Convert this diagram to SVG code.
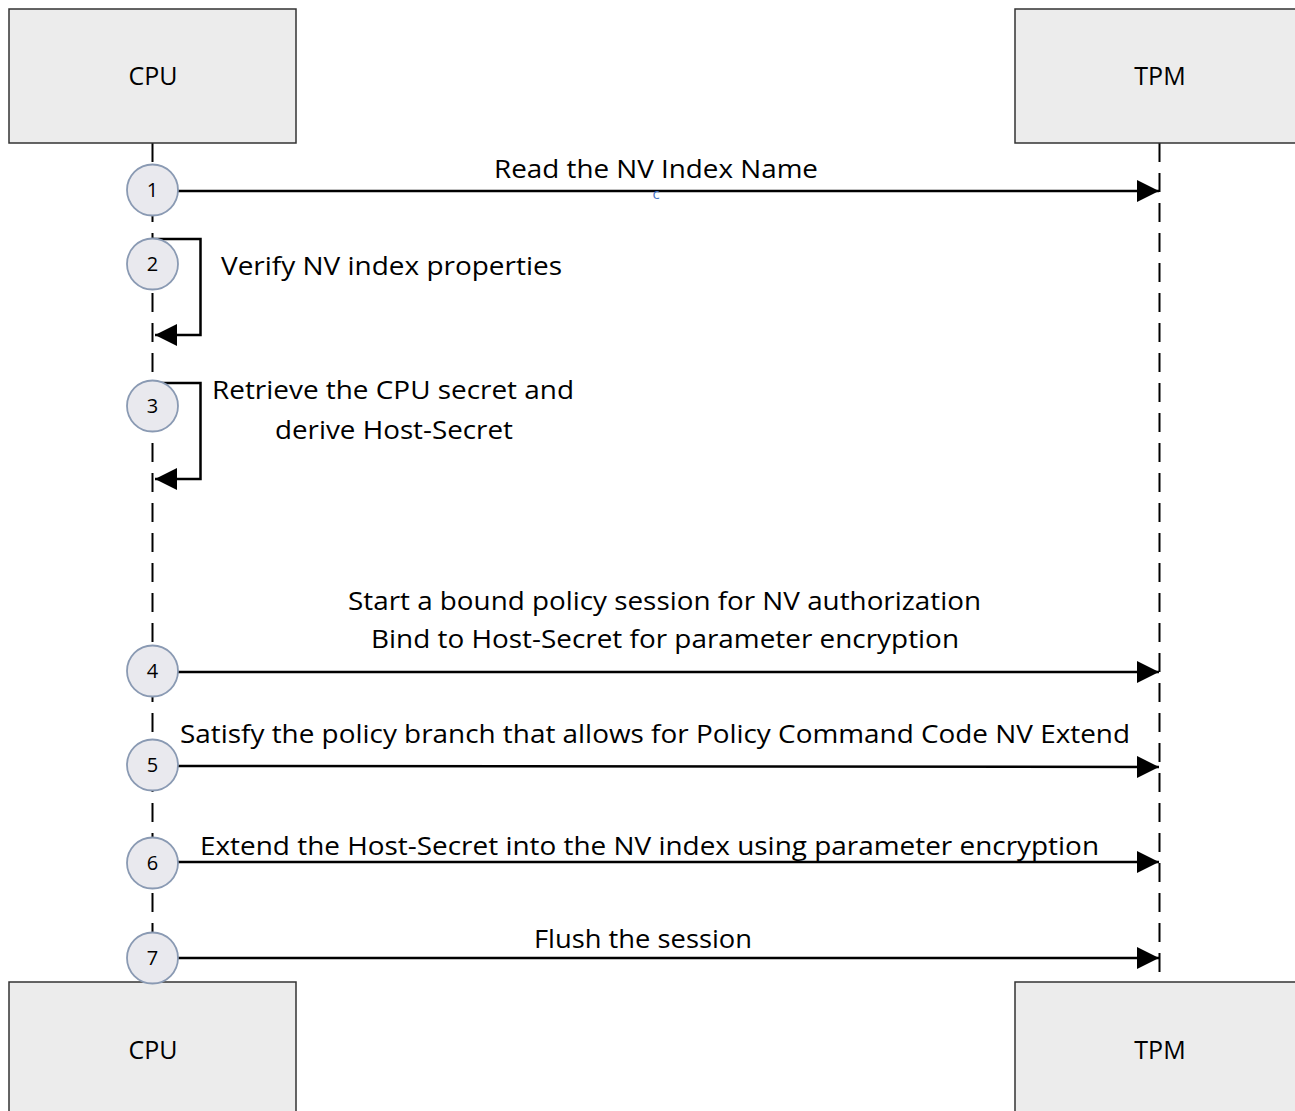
<svg xmlns="http://www.w3.org/2000/svg" width="1295" height="1111" viewBox="0 0 1295 1111">
<style>
.box{fill:#ececec;stroke:#333;stroke-width:1.5}
.lbl{font-family:"Open Sans","Liberation Sans",sans-serif;font-size:25px;fill:#000}
.life{stroke:#000;stroke-width:2;stroke-dasharray:19 11;fill:none}
.msg{stroke:#000;stroke-width:2.5;fill:none}
.num{fill:#e9e9ee;stroke:#8a9ab3;stroke-width:1.8}
.nt{font-family:"Open Sans","Liberation Sans",sans-serif;font-size:20px;fill:#000;text-anchor:middle}
.mark{font-family:"Open Sans","Liberation Sans",sans-serif;font-size:15px;fill:#4472c4;text-anchor:middle}
</style>
<defs>
<marker id="ah" markerWidth="22" markerHeight="22" refX="22" refY="11" orient="auto" markerUnits="userSpaceOnUse">
<path d="M0,0 L22,11 L0,22 Z" fill="#000"/>
</marker>
</defs>
<g id="lifelines">
<line class="life" x1="152.5" y1="143" x2="152.5" y2="982"/>
<line class="life" x1="1159.5" y1="143" x2="1159.5" y2="982"/>
</g>
<g id="cpu-top"><rect class="box" x="9" y="9" width="287" height="134"/><text class="lbl" x="153" y="85" text-anchor="middle">CPU</text></g>
<g id="tpm-top"><rect class="box" x="1015" y="9" width="290" height="134"/><text class="lbl" x="1160" y="85" text-anchor="middle">TPM</text></g>
<g id="cpu-bottom"><rect class="box" x="9" y="982" width="287" height="140"/><text class="lbl" x="153" y="1059" text-anchor="middle">CPU</text></g>
<g id="tpm-bottom"><rect class="box" x="1015" y="982" width="290" height="140"/><text class="lbl" x="1160" y="1059" text-anchor="middle">TPM</text></g>
<g id="connectors">
<line class="msg" x1="177" y1="191" x2="1159" y2="191" marker-end="url(#ah)"/>
<polyline class="msg" points="152,239 200.5,239 200.5,335 155,335" marker-end="url(#ah)"/>
<polyline class="msg" points="152,383 200.5,383 200.5,479 155,479" marker-end="url(#ah)"/>
<line class="msg" x1="177" y1="672" x2="1159" y2="672" marker-end="url(#ah)"/>
<line class="msg" x1="177" y1="766" x2="1159" y2="767" marker-end="url(#ah)"/>
<line class="msg" x1="177" y1="862" x2="1159" y2="862" marker-end="url(#ah)"/>
<line class="msg" x1="177" y1="958" x2="1159" y2="958" marker-end="url(#ah)"/>
</g>
<g id="labels">
<text class="lbl" x="494" y="178" textLength="324" lengthAdjust="spacingAndGlyphs">Read the NV Index Name</text>
<text class="mark" x="656" y="199">c</text>
<text class="lbl" x="221" y="275" textLength="341" lengthAdjust="spacingAndGlyphs">Verify NV index properties</text>
<text class="lbl" x="212" y="399" textLength="362" lengthAdjust="spacingAndGlyphs">Retrieve the CPU secret and</text>
<text class="lbl" x="275" y="439" textLength="238" lengthAdjust="spacingAndGlyphs">derive Host-Secret</text>
<text class="lbl" x="348" y="610" textLength="633" lengthAdjust="spacingAndGlyphs">Start a bound policy session for NV authorization</text>
<text class="lbl" x="371" y="648" textLength="588" lengthAdjust="spacingAndGlyphs">Bind to Host-Secret for parameter encryption</text>
<text class="lbl" x="180" y="743" textLength="950" lengthAdjust="spacingAndGlyphs">Satisfy the policy branch that allows for Policy Command Code NV Extend</text>
<text class="lbl" x="200" y="855" textLength="899" lengthAdjust="spacingAndGlyphs">Extend the Host-Secret into the NV index using parameter encryption</text>
<text class="lbl" x="534" y="948" textLength="218" lengthAdjust="spacingAndGlyphs">Flush the session</text>
</g>
<g id="step1"><circle class="num" cx="152.5" cy="190" r="25.5"/><text class="nt" x="152.5" y="197">1</text></g>
<g id="step2"><circle class="num" cx="152.5" cy="264" r="25.5"/><text class="nt" x="152.5" y="271">2</text></g>
<g id="step3"><circle class="num" cx="152.5" cy="406" r="25.5"/><text class="nt" x="152.5" y="413">3</text></g>
<g id="step4"><circle class="num" cx="152.5" cy="671" r="25.5"/><text class="nt" x="152.5" y="678">4</text></g>
<g id="step5"><circle class="num" cx="152.5" cy="765" r="25.5"/><text class="nt" x="152.5" y="772">5</text></g>
<g id="step6"><circle class="num" cx="152.5" cy="863" r="25.5"/><text class="nt" x="152.5" y="870">6</text></g>
<g id="step7"><circle class="num" cx="152.5" cy="958" r="25.5"/><text class="nt" x="152.5" y="965">7</text></g>
</svg>
